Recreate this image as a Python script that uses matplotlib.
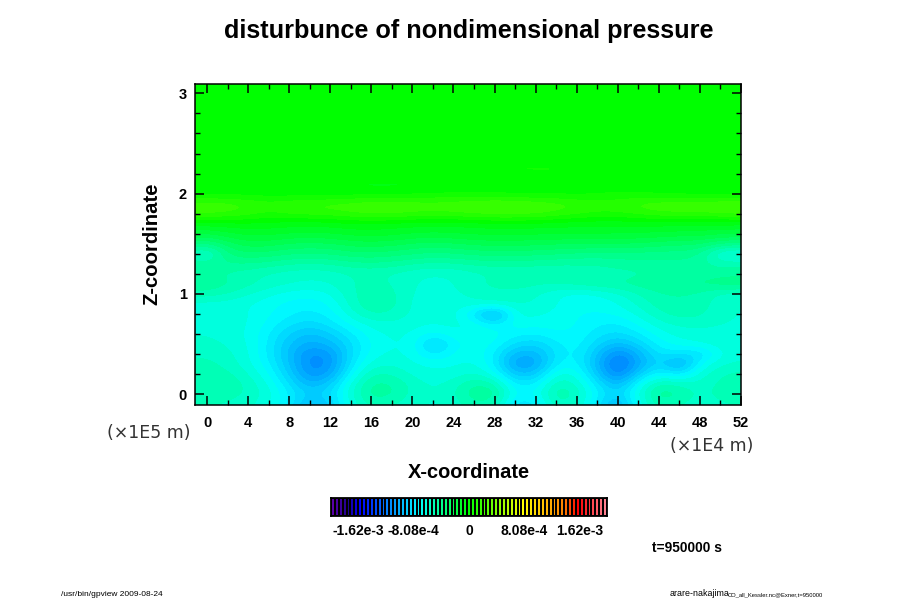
import numpy as np
import matplotlib
matplotlib.use("Agg")
import matplotlib.pyplot as plt
from matplotlib.colors import LinearSegmentedColormap, BoundaryNorm

plt.rcParams['font.family'] = ['Liberation Sans', 'DejaVu Sans']

# x runs -2, 0, ... 52 (28 columns), z runs 3.1 down to -0.1 in steps of 0.1
x_first, x_last, x_step = -2, 52, 2
z_top, z_bottom, z_step = 3.1, -0.1, 0.1

# disturbance in units of 1e-4, top row first
field = [
    [0.0]*28,  # 3.1
    [0.0]*28,
    [0.0]*28,
    [0.0]*28,
    [0.0]*28,
    [0.0]*28,
    [0.0]*28,  # 2.5
    [-0.1]*28,
    [-0.3, -0.3, -0.2, -0.1, -0.1, 0, 0, 0, 0.1, 0.2, 0.3, 0.3, 0.3, 0.3, 0.3, 0.3, 0.3, 0.3, 0.3, 0.3, 0.3, 0.2, 0.2, 0.1, 0, 0, -0.1, -0.1],
    [-0.3, -0.2, -0.1, -0.2, -0.1, 0, 0, 0.1, 0.2, 0.3, 0.3, 0.3, 0.3, 0.3, 0.3, 0.3, 0.3, 0.3, 0.3, 0.2, 0.2, 0.1, 0, -0.1, -0.2, -0.2, -0.2, -0.2],
    [0.0, 0.1, 0.1, 0, -0.2, -0.3, -0.3, -0.4, -0.4, -0.5, -0.5, -0.5, -0.5, -0.4, -0.3, -0.2, -0.1, 0, 0.1, 0.1, 0.2, 0.1, 0, -0.1, -0.2, -0.3, -0.3, -0.3],
    [-0.1, -0.1, -0.1, -0.1, -0.1, -0.1, -0.2, -0.2, -0.1, 0, 0, 0.1, 0.2, 0.3, 0.3, 0.2, 0, 0, 0, 0, 0.1, 0.2, 0.2, 0.1, 0, 0, -0.1, -0.1],
    [1.9, 1.9, 1.8, 1.5, 1.2, 1.4, 1.6, 1.7, 1.8, 2.0, 2.0, 1.9, 1.8, 1.9, 2.0, 2.2, 2.2, 2.0, 1.8, 1.5, 1.3, 1.4, 1.7, 1.9, 2.0, 2.0, 2.1, 2.2],
    [1.7, 1.7, 1.5, 1.2, 0.8, 1.1, 1.2, 1.3, 1.5, 1.7, 1.7, 1.5, 1.4, 1.5, 1.7, 1.8, 1.8, 1.7, 1.4, 1.1, 0.8, 0.8, 1.1, 1.4, 1.5, 1.5, 1.7, 1.8],
    [-0.6, -0.6, -0.5, -0.4, -0.5, -0.6, -0.7, -0.6, -0.4, -0.4, -0.5, -0.6, -0.7, -0.7, -0.6, -0.5, -0.5, -0.5, -0.6, -0.7, -0.7, -0.7, -0.7, -0.7, -0.7, -0.8, -0.8, -0.8],
    [-1.8, -1.9, -1.5, -1.2, -1.2, -1.4, -1.5, -1.4, -1.2, -1.1, -1.2, -1.4, -1.5, -1.4, -1.3, -1.2, -1.2, -1.3, -1.3, -1.3, -1.3, -1.4, -1.4, -1.5, -1.6, -1.6, -1.8, -1.9],
    [-3.4, -3.8, -2.8, -2.2, -2.3, -2.6, -2.7, -2.6, -2.3, -2.2, -2.3, -2.6, -2.8, -2.6, -2.4, -2.3, -2.3, -2.4, -2.5, -2.5, -2.5, -2.5, -2.6, -2.8, -3.0, -3.0, -3.6, -3.8],
    [-5.2, -6.2, -3.6, -3.2, -3.3, -3.6, -3.7, -3.6, -3.3, -3.2, -3.4, -3.6, -3.8, -3.7, -3.5, -3.4, -3.4, -3.5, -3.6, -3.8, -3.9, -3.9, -3.9, -4.0, -4.0, -4.2, -6.4, -6.6],
    [-4.3, -4.4, -4.3, -4.3, -4.5, -4.8, -4.9, -4.8, -4.5, -4.4, -4.5, -4.8, -5.0, -4.9, -4.7, -4.6, -4.6, -4.7, -4.8, -4.8, -4.8, -4.6, -4.5, -4.5, -4.4, -4.6, -5.0, -5.0],
    [-4.6, -4.6, -5.0, -5.2, -5.5, -5.7, -5.8, -5.7, -5.4, -5.3, -5.5, -5.8, -6.0, -5.9, -5.6, -5.4, -5.3, -5.4, -5.4, -5.3, -5.2, -5.1, -5.0, -4.8, -4.6, -4.6, -4.5, -4.4],
    [-4.3, -4.3, -4.7, -5.2, -5.6, -5.9, -6.1, -6.0, -5.4, -5.2, -5.4, -5.9, -6.2, -6.0, -5.5, -5.2, -5.1, -5.2, -5.2, -5.0, -4.8, -4.7, -4.5, -4.3, -4.1, -4.1, -3.8, -3.7],
    [-5.0, -5.0, -5.4, -5.9, -6.4, -6.8, -6.9, -6.6, -5.5, -5.0, -5.2, -6.0, -6.3, -6.1, -5.8, -5.6, -5.6, -5.9, -6.5, -6.8, -6.6, -6.1, -5.4, -4.9, -4.8, -5.0, -5.6, -5.8],
    [-6.3, -6.3, -6.3, -6.5, -6.9, -7.3, -7.5, -7.1, -5.7, -4.8, -5.1, -6.1, -6.5, -6.3, -6.1, -5.9, -5.9, -6.0, -6.5, -6.9, -6.9, -6.6, -5.8, -5.1, -4.9, -5.0, -5.8, -6.0],
    [-6.1, -6.1, -6.2, -6.5, -7.0, -7.6, -7.9, -7.5, -6.2, -5.3, -5.5, -6.1, -6.4, -6.2, -8.0, -11.0, -6.4, -6.4, -6.7, -7.1, -7.2, -7.0, -6.4, -5.5, -5.1, -5.2, -5.9, -6.0],
    [-6.1, -6.1, -6.2, -6.5, -7.3, -8.1, -8.6, -8.0, -7.0, -6.3, -6.1, -6.3, -6.5, -6.3, -6.7, -7.8, -6.7, -6.9, -6.8, -7.1, -7.6, -7.8, -7.0, -6.2, -5.8, -5.8, -6.0, -6.0],
    [-6.0, -6.0, -6.2, -6.6, -7.6, -8.9, -9.6, -9.0, -7.8, -6.8, -6.4, -6.6, -7.4, -6.7, -6.4, -6.8, -7.5, -7.7, -7.2, -7.2, -8.0, -8.5, -7.8, -6.8, -6.3, -6.2, -6.1, -6.0],
    [-5.8, -5.8, -6.0, -6.5, -7.8, -9.4, -10.3, -9.8, -8.4, -7.0, -6.5, -6.6, -9.2, -7.4, -6.8, -7.1, -8.4, -8.8, -7.8, -7.3, -8.6, -9.8, -8.8, -7.4, -6.8, -6.5, -6.2, -6.0],
    [-5.5, -5.5, -5.8, -6.4, -7.8, -9.6, -11.4, -11.0, -8.4, -6.8, -6.4, -6.7, -8.0, -7.0, -6.6, -7.6, -9.9, -10.0, -8.0, -7.4, -9.4, -11.8, -10.0, -8.0, -8.2, -8.6, -6.6, -6.2],
    [-5.2, -5.2, -5.6, -6.3, -7.5, -9.4, -11.6, -11.2, -8.0, -6.2, -6.0, -6.4, -6.7, -6.6, -6.4, -7.6, -10.8, -10.6, -7.6, -7.3, -9.8, -12.6, -10.4, -8.4, -10.8, -7.0, -6.0, -5.8],
    [-4.9, -4.9, -5.2, -5.9, -7.0, -8.9, -11.2, -10.6, -7.2, -5.3, -5.4, -6.1, -6.4, -6.3, -5.8, -6.7, -9.4, -9.2, -6.3, -6.5, -9.2, -12.0, -9.0, -7.0, -8.0, -6.2, -5.4, -5.2],
    [-4.8, -4.8, -4.9, -5.5, -6.5, -8.2, -10.0, -9.0, -6.3, -4.6, -4.7, -5.6, -6.1, -5.7, -4.7, -5.0, -7.8, -7.7, -5.3, -5.8, -8.0, -10.0, -7.0, -5.0, -5.4, -5.8, -5.2, -5.0],
    [-5.0, -5.0, -5.1, -5.5, -6.2, -7.7, -9.0, -8.4, -6.0, -4.4, -4.7, -5.6, -6.1, -5.5, -4.3, -4.2, -7.3, -7.1, -4.7, -5.4, -7.5, -9.0, -6.4, -4.2, -4.8, -5.6, -5.2, -5.0],
    [-5.4, -5.4, -5.5, -5.8, -6.4, -7.8, -10.0, -9.0, -6.3, -5.2, -5.4, -5.8, -6.1, -5.8, -5.0, -5.2, -8.2, -8.0, -5.4, -5.8, -8.0, -10.2, -6.8, -5.0, -5.4, -5.8, -5.5, -5.4],
]

# colour bar
n_bands = 71
value_max = 20.2
cbar_ticks = [-16.2, -8.08, 0, 8.08, 16.2]
cbar_labels = ['-1.62e-3', '-8.08e-4', '0', '8.08e-4', '1.62e-3']
color_stops = [(0.0, '#5a00a8'), (0.055, '#1c0090'), (0.1, '#0000ff'), (0.2, '#0080ff'),
               (0.32, '#00ffff'), (0.5, '#00ff00'), (0.7, '#ffff00'), (0.85, '#ff8000'),
               (0.9, '#ff0000'), (1.0, '#ff8090')]

cmap = LinearSegmentedColormap.from_list('gpview', color_stops, N=n_bands)
levels = np.linspace(-value_max, value_max, n_bands + 1)
norm = BoundaryNorm(levels, n_bands)


def add_axes_px(fig, left, top, right, bottom):
    # pixel box -> figure fraction
    return fig.add_axes([left/900, 1 - bottom/600, (right - left)/900, (bottom - top)/600])


fig = plt.figure(figsize=(9, 6), dpi=100)

ax = add_axes_px(fig, 195, 84, 741, 405)
extent = [x_first - x_step/2, x_last + x_step/2, z_bottom - z_step/2, z_top + z_step/2]
ax.imshow(np.array(field), extent=extent, aspect='auto', origin='upper', cmap=cmap, norm=norm,
          interpolation='bicubic', interpolation_stage='data')
ax.set_xlim(-1.17, 52)
ax.set_ylim(-0.107, 3.093)
ax.set_xticks(np.arange(0, 53, 4))
ax.set_xticks(np.arange(0, 53, 2), minor=True)
ax.set_yticks([0, 1, 2, 3])
ax.set_yticks(np.arange(0, 3.01, 0.2), minor=True)
ax.tick_params(which='major', direction='in', length=6.5, width=1.1, top=True, right=True)
ax.tick_params(axis='x', which='major', pad=8)
ax.tick_params(axis='y', which='major', pad=6)
ax.tick_params(which='minor', direction='in', length=3.8, width=1.0, top=True, right=True)
for label in ax.get_xticklabels() + ax.get_yticklabels():
    label.set_fontweight('bold')
    label.set_fontsize(10.5)
for spine in ax.spines.values():
    spine.set_linewidth(1.1)

fig.text(468.5/900, 1 - 31/600, 'disturbunce of nondimensional pressure', ha='center', va='center',
         fontsize=18.2, fontweight='bold')
fig.text(469/900, 1 - 472/600, 'X-coordinate', ha='center', va='center', fontsize=14.4, fontweight='bold')
fig.text(152/900, 1 - 244/600, 'Z-coordinate', ha='center', va='center', rotation=90,
         fontsize=14.6, fontweight='bold')
fig.text(149/900, 1 - 433/600, '(×1E5 m)', ha='center', va='center', fontsize=12.5,
         family='DejaVu Sans', color='#333333')
fig.text(712/900, 1 - 446/600, '(×1E4 m)', ha='center', va='center', fontsize=12.5,
         family='DejaVu Sans', color='#333333')

# colour bar drawn as separated cells
cax = add_axes_px(fig, 331, 498, 607, 516)
band_values = (levels[:-1] + levels[1:])/2
cax.pcolormesh(levels, [0, 1], band_values.reshape(1, -1), cmap=cmap, norm=norm,
               edgecolors='black', linewidth=0.22)
cax.set_xlim(-value_max, value_max)
cax.set_ylim(0, 1)
cax.set_yticks([])
cax.set_xticks(cbar_ticks)
cax.set_xticklabels(cbar_labels, fontweight='bold', fontsize=10)
cax.tick_params(axis='x', length=0, pad=5.5)
for spine in cax.spines.values():
    spine.set_linewidth(1.3)

fig.text(687.5/900, 1 - 548/600, 't=950000 s', ha='center', va='center', fontsize=9.9, fontweight='bold')
fig.text(112/900, 1 - 594/600, '/usr/bin/gpview 2009-08-24', ha='center', va='center', fontsize=6)
fig.text(670/900, 1 - 594/600, 'arare-nakajima', ha='left', va='center', fontsize=6.4)
fig.text(728/900, 1 - 595/600, 'CO_all_Kessler.nc@Exner,t=950000', ha='left', va='center', fontsize=4.2)

fig.savefig('out.png', dpi=100)
